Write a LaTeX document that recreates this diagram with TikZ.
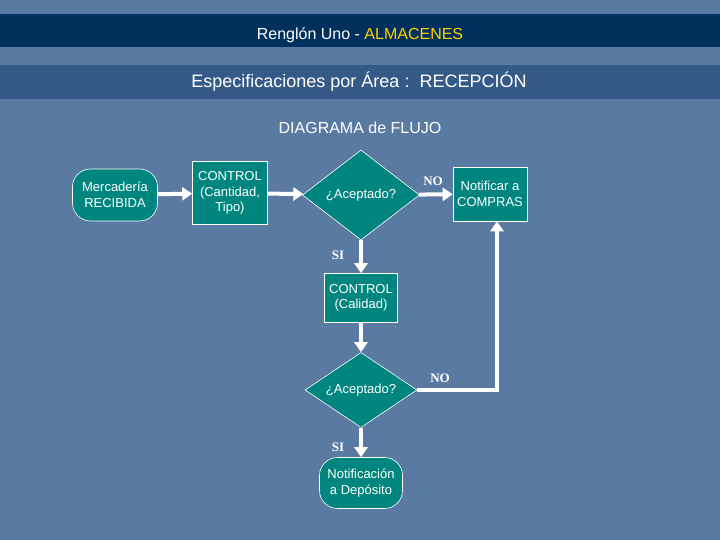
\documentclass[tikz,border=0pt]{standalone}
\usepackage{fontspec}
\setmainfont{Liberation Sans}
\newfontfamily\serifl{Liberation Serif}
\usetikzlibrary{shapes.geometric,arrows.meta}
\definecolor{bg}{HTML}{5A7AA2}
\definecolor{navy}{HTML}{00305E}
\definecolor{bar}{HTML}{365A88}
\definecolor{teal}{HTML}{00867F}
\definecolor{yel}{HTML}{FFD200}
\begin{document}
\begin{tikzpicture}[x=1pt,y=-1pt,
  box/.style={draw=white,line width=0.6pt,fill=teal,text=white,font=\fontsize{13}{15.5}\selectfont,align=center,inner sep=0pt},
  flow/.style={draw=white,line width=4pt,-{Triangle[length=10pt,width=13pt]}},
  lab/.style={text=white,font=\serifl\bfseries\fontsize{13}{14}\selectfont}]
\fill[bg] (0,0) rectangle (720,540);
\useasboundingbox (0,0) rectangle (720,540);
\fill[navy] (0,14) rectangle (720,47);
\fill[bar] (0,65) rectangle (720,99);
\node[text=white,font=\fontsize{16}{18}\selectfont] (t1) at (360,35) {Renglón Uno - \textcolor{yel}{ALMACENES}};
\node[text=white,font=\fontsize{18}{20}\selectfont] (t2) at (359,82) {Especificaciones por Área :\ \ RECEPCIÓN};
\node[text=white,font=\fontsize{16}{18}\selectfont] (t3) at (360,128) {DIAGRAMA de FLUJO};
\node[box,rounded corners=18pt,minimum width=85pt,minimum height=52pt] (m) at (115,195) {Mercadería\\RECIBIDA};
\node[box,minimum width=75pt,minimum height=63pt] (c1) at (230,193) {CONTROL\\(Cantidad,\\Tipo)};
\node[box,diamond,minimum width=117pt,minimum height=90pt,aspect=1.3] (d1) at (361,195) {¿Aceptado?};
\node[box,minimum width=74pt,minimum height=54pt] (n) at (490,194) {Notificar a\\COMPRAS};
\node[box,minimum width=73pt,minimum height=49pt] (c2) at (361,298) {CONTROL\\(Calidad)};
\node[box,diamond,minimum width=112pt,minimum height=75pt,aspect=1.5] (d2) at (361,390) {¿Aceptado?};
\node[box,rounded corners=18pt,minimum width=83pt,minimum height=51pt] (nd) at (361,483) {Notificación\\a Depósito};
\draw[flow] (m) -- (c1);
\draw[flow] (c1) -- (d1);
\draw[flow] (d1) -- (n);
\draw[flow] (d1.south) -- (c2);
\draw[flow] (c2) -- (d2.north);
\draw[flow] (d2.south) -- (nd);
\coordinate (r) at (497,390);
\draw[flow] (d2.east) -- (r) -- (r |- n.south);
\node[lab] (no1) at (433,181) {NO};
\node[lab] (si1) at (338,255) {SI};
\node[lab] (no2) at (440,378) {NO};
\node[lab] (si2) at (338,447) {SI};
\end{tikzpicture}
\end{document}
